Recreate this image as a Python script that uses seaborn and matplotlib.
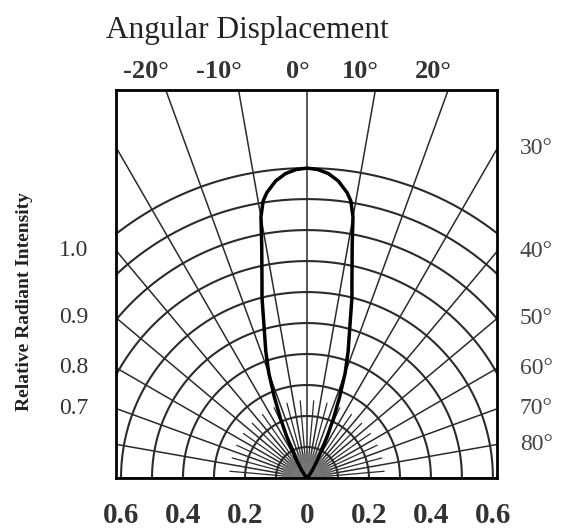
import numpy as np
import pandas as pd
import seaborn as sns
import matplotlib
matplotlib.use("Agg")
import matplotlib.pyplot as plt

# radiation pattern (symmetric about 0 deg)
angles_deg = [0, 2, 4, 6, 8, 9, 10, 11, 12, 13, 14, 16, 18, 20, 22, 24, 26, 28, 30, 34, 40, 45]
rel_intensity = [1.0, 0.996, 0.985, 0.964, 0.93, 0.905, 0.855, 0.765, 0.70, 0.645, 0.60,
                 0.50, 0.43, 0.36, 0.28, 0.21, 0.15, 0.10, 0.07, 0.035, 0.01, 0.0]

grid_radii = [0.1, 0.2, 0.3, 0.4, 0.5, 0.6, 0.7, 0.8, 0.9, 1.0]
grid_angles = list(range(-90, 91, 10))
top_ticks = [-20, -10, 0, 10, 20]
right_ticks = [30, 40, 50, 60, 70, 80]
left_ticks = [40, 50, 60, 70]
left_labels = ["1.0", "0.9", "0.8", "0.7"]
bottom_ticks = [-0.6, -0.4, -0.2, 0, 0.2, 0.4, 0.6]
bottom_labels = ["0.6", "0.4", "0.2", "0", "0.2", "0.4", "0.6"]

sns.set_style("white")
plt.rcParams["font.family"] = ["Liberation Serif", "DejaVu Serif"]

XMIN, XMAX, YMAX = -0.616, 0.613, 1.252
GRID = "#2b2b2b"

fig = plt.figure(figsize=(5.63, 5.28), dpi=100)
ax = fig.add_axes([116 / 563, 50 / 528, 381 / 563, 388 / 528])

# arcs
t = np.linspace(0, np.pi, 400)
for r in grid_radii:
    ax.plot(r * np.cos(t), r * np.sin(t), color=GRID, lw=1.5, zorder=1)

# radial lines
for a in grid_angles:
    th = np.radians(a)
    ax.plot([0, 3 * np.sin(th)], [0, 3 * np.cos(th)], color=GRID, lw=1.1, zorder=1)
# finer lines close to the origin
for a in range(-85, 90, 10):
    th = np.radians(a)
    ax.plot([0.05 * np.sin(th), 0.25 * np.sin(th)], [0.05 * np.cos(th), 0.25 * np.cos(th)],
            color=GRID, lw=0.9, zorder=1)
for a in range(-88, 90, 2):
    th = np.radians(a)
    ax.plot([0, 0.08 * np.sin(th)], [0, 0.08 * np.cos(th)], color="#777777", lw=0.6, zorder=1)

# lobe
ang = np.array(angles_deg, dtype=float)
inten = np.array(rel_intensity)
full_ang = np.concatenate([-ang[::-1], ang[1:]])
full_int = np.concatenate([inten[::-1], inten[1:]])
lobe = pd.DataFrame({
    "x": full_int * np.sin(np.radians(full_ang)),
    "y": full_int * np.cos(np.radians(full_ang)),
})
sns.lineplot(data=lobe, x="x", y="y", sort=False, estimator=None, color="black",
             lw=2.5, ax=ax, zorder=3)

ax.set_xlim(XMIN, XMAX)
ax.set_ylim(0, YMAX)
ax.set_aspect("equal")
for s in ax.spines.values():
    s.set_visible(True)
    s.set_color("black")
    s.set_linewidth(2)

ax.set_xticks(bottom_ticks)
ax.set_xticklabels(bottom_labels, fontsize=21, fontweight="bold", color="#333333")
ax.tick_params(axis="x", length=0, pad=17)
ax.set_yticks([])
ax.set_xlabel("")
ax.set_ylabel("")

# top angle labels
for a in top_ticks:
    x = YMAX * np.tan(np.radians(a))
    ax.text(x + 0.01, YMAX + 0.06, f"{a}°", ha="right", va="center",
            fontsize=19, fontweight="bold", color="#333333", clip_on=False)

# right angle labels at the height where each radial line meets the frame
for a in right_ticks:
    y = XMAX / np.tan(np.radians(a))
    ax.text(0.687, y, f"{a}°", ha="left", va="center", fontsize=17,
            color="#444444", clip_on=False)

for a, lab in zip(left_ticks, left_labels):
    y = -XMIN / np.tan(np.radians(a))
    ax.text(-0.752, y, lab, ha="center", va="center", fontsize=17,
            color="#333333", clip_on=False)

fig.text(247 / 563, 1 - 38 / 528, "Angular Displacement", ha="center", va="baseline",
         fontsize=22.5, color="#222222")
fig.text(25 / 563, 1 - 302 / 528, "Relative Radiant Intensity", rotation=90,
         ha="center", va="center", fontsize=14, fontweight="bold", color="#222222")

fig.savefig("out.png", dpi=100)
